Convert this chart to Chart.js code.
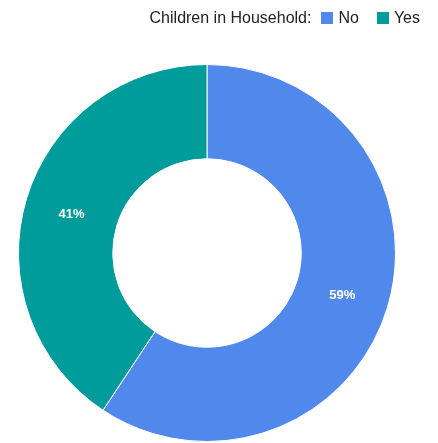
<!DOCTYPE html>
<html>
<head>
<meta charset="utf-8">
<script src="https://cdn.jsdelivr.net/npm/chart.js@4/dist/chart.umd.min.js"></script>
<style>
  html, body { margin: 0; padding: 0; background: #fff; }
  #wrap { position: relative; width: 438px; height: 443px; }
  #legend {
    position: absolute; top: 8px; right: 18px;
    font-family: "Liberation Sans", Arial, sans-serif; font-size: 16px; color: #222;
    display: flex; align-items: center; white-space: nowrap; line-height: 20px;
  }
  #legend .box { display: inline-block; width: 12px; height: 12px; margin: 0 5px 0 0; }
  #legend .item { display: inline-flex; align-items: center; margin-left: 10px; }
  #legend .item + .item { margin-left: 18px; }
</style>
</head>
<body>
<div id="wrap">
  <canvas id="chart" width="438" height="443"></canvas>
  <div id="legend"></div>
</div>
<script>
// chart data
const legendTitle = 'Children in Household:';
const categories = ['No', 'Yes'];
const shares = [59.3, 40.7];
const sliceColors = ['#5088ec', '#009b9b'];

// html legend, title inline with the items
const legend = document.getElementById('legend');
let html = '<span>' + legendTitle + '</span>';
categories.forEach((c, i) => {
    html += '<span class="item"><span class="box" style="background:' + sliceColors[i] + '"></span>' + c + '</span>';
});
legend.innerHTML = html;

// percent labels in the middle of each slice
const sliceLabels = {
    id: 'sliceLabels',
    afterDatasetsDraw(chart) {
        const ctx = chart.ctx;
        const meta = chart.getDatasetMeta(0);
        ctx.save();
        ctx.fillStyle = '#ffffff';
        ctx.font = 'bold 13px "Liberation Sans", Arial, sans-serif';
        ctx.textAlign = 'center';
        ctx.textBaseline = 'middle';
        meta.data.forEach((arc, i) => {
            const p = arc.tooltipPosition();
            ctx.fillText(Math.round(shares[i]) + '%', p.x, p.y + 2);
        });
        ctx.restore();
    }
};

new Chart(document.getElementById('chart'), {
    type: 'doughnut',
    data: {
        labels: categories,
        datasets: [{
            data: shares,
            backgroundColor: sliceColors,
            borderColor: '#ffffff',
            borderWidth: 1
        }]
    },
    options: {
        responsive: false,
        animation: false,
        cutout: '50%',
        layout: { padding: { top: 64, left: 18, right: 42, bottom: 1 } },
        plugins: {
            legend: { display: false },
            tooltip: { enabled: false }
        }
    },
    plugins: [sliceLabels]
});
</script>
</body>
</html>
